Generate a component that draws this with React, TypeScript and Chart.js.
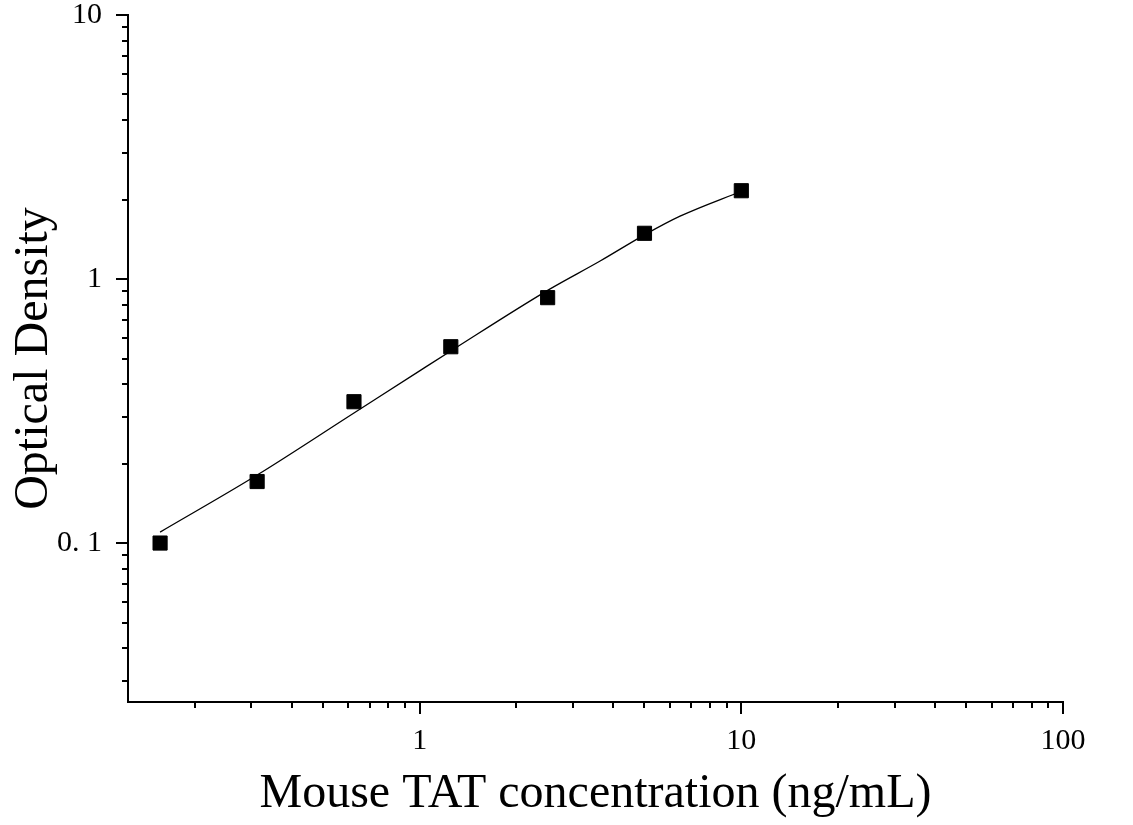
import React, { useEffect, useRef } from 'react';
import { Chart, registerables } from 'chart.js';

Chart.register(...registerables);

// Standard points
const concentrations = [0.156, 0.3125, 0.625, 1.25, 2.5, 5, 10];
const odValues = [0.1, 0.171, 0.343, 0.554, 0.85, 1.49, 2.16];

// Fitted curve
const curveX = [0.156, 0.3125, 0.625, 1, 1.25, 2.5, 3.64, 5, 6.45, 10];
const curveY = [0.11, 0.181, 0.311, 0.449, 0.534, 0.906, 1.17, 1.47, 1.73, 2.15];

// Axes
const xTickValues = [1, 10, 100];
const xTickLabels = ['1', '10', '100'];
const yTickValues = [0.1, 1, 10];
const yTickLabels = ['0. 1', '1', '10'];
const xRange = [0.124, 100];
const yRange = [0.025, 10];
const xAxisTitle = 'Mouse TAT concentration (ng/mL)';
const yAxisTitle = 'Optical Density';

const FONT = '"Liberation Serif", "Times New Roman", serif';

const tickMarks = {
  id: 'tickMarks',
  afterDraw(chart: any) {
    const ctx = chart.ctx;
    const { left, bottom } = chart.chartArea;
    ctx.save();
    ctx.strokeStyle = '#000';
    ctx.lineWidth = 2;
    const drawFor = (scale: any, horiz: boolean) => {
      const lo = Math.floor(Math.log10(scale.min));
      const hi = Math.ceil(Math.log10(scale.max));
      for (let d = lo; d <= hi; d++) {
        for (let k = 1; k <= 9; k++) {
          const v = k * Math.pow(10, d);
          if (v < scale.min * 0.999 || v > scale.max * 1.001) continue;
          const p = Math.round(scale.getPixelForValue(v));
          const len = k === 1 ? 12 : 6;
          ctx.beginPath();
          if (horiz) {
            ctx.moveTo(p, bottom);
            ctx.lineTo(p, bottom + len);
          } else {
            ctx.moveTo(left, p);
            ctx.lineTo(left - len, p);
          }
          ctx.stroke();
        }
      }
    };
    drawFor(chart.scales.x, true);
    drawFor(chart.scales.y, false);
    ctx.restore();
  },
};

const App: React.FC = () => {
  const canvasRef = useRef<HTMLCanvasElement | null>(null);

  useEffect(() => {
    if (!canvasRef.current) return;
    const pointData = concentrations.map((x, i) => ({ x, y: odValues[i] }));
    const curveData = curveX.map((x, i) => ({ x, y: curveY[i] }));

    const chart = new Chart(canvasRef.current, {
      type: 'scatter',
      data: {
        datasets: [
          {
            label: 'Standards',
            data: pointData,
            pointStyle: 'rect',
            pointRadius: 10,
            pointBackgroundColor: '#000',
            pointBorderColor: '#000',
            pointBorderWidth: 1,
            showLine: false,
            order: 0,
          },
          {
            label: 'Fit',
            data: curveData,
            showLine: true,
            borderColor: '#000',
            borderWidth: 1.3,
            pointRadius: 0,
            cubicInterpolationMode: 'monotone',
            fill: false,
            order: 1,
          },
        ],
      },
      options: {
        responsive: false,
        animation: false,
        layout: { padding: { left: 0, top: 15, right: 70, bottom: 0 } },
        plugins: {
          legend: { display: false },
          tooltip: { enabled: false },
        },
        scales: {
          x: {
            type: 'logarithmic',
            position: 'bottom',
            min: xRange[0],
            max: xRange[1],
            afterBuildTicks: (s: any) => {
              s.ticks = xTickValues.map((v) => ({ value: v, major: true }));
            },
            afterFit: (s: any) => {
              s.height = 123;
              s.paddingLeft = 0;
              s.paddingRight = 0;
            },
            grid: { display: false, drawTicks: false },
            border: { display: true, color: '#000', width: 2 },
            ticks: {
              autoSkip: false,
              maxRotation: 0,
              minRotation: 0,
              padding: 21,
              color: '#000',
              font: { family: FONT, size: 30 },
              callback: (_v: any, i: number) => xTickLabels[i],
            },
            title: {
              display: true,
              text: xAxisTitle,
              color: '#000',
              font: { family: FONT, size: 48, lineHeight: 1 },
              padding: { top: 0, bottom: 7 },
            },
          },
          y: {
            type: 'logarithmic',
            position: 'left',
            min: yRange[0],
            max: yRange[1],
            afterBuildTicks: (s: any) => {
              s.ticks = yTickValues.map((v) => ({ value: v, major: true }));
            },
            afterFit: (s: any) => {
              s.width = 128;
              s.paddingTop = 0;
              s.paddingBottom = 0;
            },
            grid: { display: false, drawTicks: false },
            border: { display: true, color: '#000', width: 2 },
            ticks: {
              autoSkip: false,
              padding: 26,
              color: '#000',
              font: { family: FONT, size: 30 },
              callback: (_v: any, i: number) => yTickLabels[i],
            },
            title: {
              display: true,
              text: yAxisTitle,
              color: '#000',
              font: { family: FONT, size: 48, lineHeight: 1 },
              padding: { top: 10, bottom: 0 },
            },
          },
        },
      },
      plugins: [tickMarks],
    } as any);

    return () => chart.destroy();
  }, []);

  return (
    <div style={{ position: 'absolute', left: 0, top: 0, width: 1133, height: 825, background: '#fff' }}>
      <canvas ref={canvasRef} width={1133} height={825} style={{ width: 1133, height: 825, display: 'block' }} />
    </div>
  );
};

export default App;
